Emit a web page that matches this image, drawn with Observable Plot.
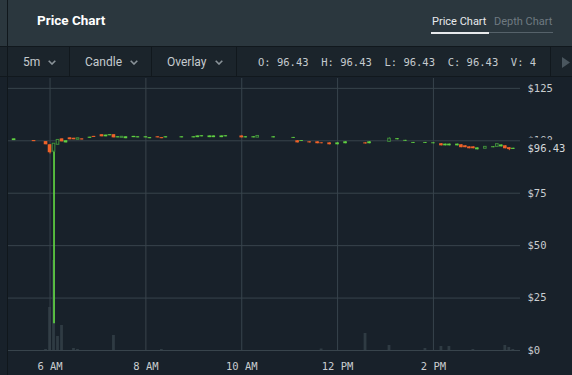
<!DOCTYPE html>
<html><head><meta charset="utf-8">
<script src="https://cdn.jsdelivr.net/npm/d3@7"></script>
<script src="https://cdn.jsdelivr.net/npm/@observablehq/plot@0.6"></script>
<style>
html,body{margin:0;padding:0;background:#18212a;width:572px;height:375px;overflow:hidden;}
#root{position:relative;width:572px;height:375px;font-family:Roboto,"Noto Sans",sans-serif;}
#header{position:absolute;left:0;top:0;width:572px;height:46px;background:#2b373e;}
#toolbar{position:absolute;left:0;top:46px;width:572px;height:31px;background:#1b242b;border-top:1px solid #11181d;border-bottom:1px solid #11181d;box-sizing:border-box;}
#title{position:absolute;left:37px;top:10px;line-height:20px;font-size:13.5px;font-weight:700;color:#ffffff;}
.tab{position:absolute;top:13px;line-height:18px;font-size:11px;}
#vline{position:absolute;left:7px;top:0;width:1px;height:375px;background:#10171c;}
.tb{position:absolute;top:1px;line-height:29px;font-size:12px;color:#c5cbcf;}
.sep{position:absolute;top:0;width:1px;height:29px;background:#11181d;}
.chev{position:absolute;top:13px;}
#ohlc{position:absolute;left:258px;top:1px;line-height:29px;font-family:"DejaVu Sans Mono",monospace;font-size:10.5px;color:#c5cbcf;white-space:pre;}
#chart{position:absolute;left:8px;top:78px;width:564px;height:297px;}
#chart svg{position:absolute;left:0;top:0;}
</style></head>
<body><div id="root">
<div id="header">
  <div id="title">Price Chart</div>
  <div class="tab" style="left:432px;color:#e8eaec;">Price Chart</div>
  <div class="tab" style="left:494px;color:#6f7a81;">Depth Chart</div>
  <div style="position:absolute;left:431px;top:32px;width:58px;height:1.5px;background:#e8eaec;"></div>
  <div style="position:absolute;left:489px;top:32px;width:64px;height:1px;background:#56626a;"></div>
</div>
<div id="toolbar">
  <div class="tb" style="left:23px;">5m</div>
  <svg class="chev" style="left:48px" width="8" height="5"><path d="M0.7 0.7 L4 4 L7.3 0.7" stroke="#8a9399" stroke-width="1.6" fill="none"/></svg>
  <div class="sep" style="left:69px"></div>
  <div class="tb" style="left:85px;">Candle</div>
  <svg class="chev" style="left:130px" width="8" height="5"><path d="M0.7 0.7 L4 4 L7.3 0.7" stroke="#8a9399" stroke-width="1.6" fill="none"/></svg>
  <div class="sep" style="left:151px"></div>
  <div class="tb" style="left:167px;">Overlay</div>
  <svg class="chev" style="left:215px" width="8" height="5"><path d="M0.7 0.7 L4 4 L7.3 0.7" stroke="#8a9399" stroke-width="1.6" fill="none"/></svg>
  <div class="sep" style="left:236px"></div>
  <div id="ohlc"></div>
  <div class="sep" style="left:550px"></div>
  <svg style="position:absolute;left:562px;top:10px" width="9" height="11"><path d="M0 0 L8 5.5 L0 11 Z" fill="#4a565e"/></svg>
</div>
<div id="vline"></div>
<div id="chart"></div>
</div>
<script>
// ---- data ----
const times  = ["05:15","05:40","05:55","06:00","06:05","06:10","06:15","06:20","06:25","06:30","06:35","06:40","06:50","06:55","07:05","07:10","07:15","07:20","07:25","07:30","07:35","07:45","07:50","08:00","08:05","08:15","08:20","08:25","08:45","09:00","09:05","09:10","09:20","09:25","09:35","09:40","10:00","10:05","10:15","10:20","10:40","11:05","11:10","11:15","11:25","11:35","11:40","11:50","12:00","12:10","12:35","12:40","13:05","13:15","13:25","13:35","13:50","14:00","14:10","14:15","14:20","14:30","14:35","14:40","14:45","14:50","14:55","15:05","15:15","15:20","15:25","15:30","15:35","15:40"];
const opens  = [100.1,100.1,99.6,98.1,94.8,98.1,100.9,99.0,101.4,101.2,100.5,100.9,101.2,102.1,102.9,101.9,102.4,102.9,101.4,101.4,101.0,101.5,101.4,101.4,101.0,101.9,101.5,101.4,101.4,101.4,101.5,101.9,101.5,101.5,101.5,101.9,102.3,101.4,101.4,101.5,101.4,101.2,100.0,99.7,99.5,99.5,99.0,99.0,98.1,98.6,99.0,98.6,99.5,100.5,99.8,98.8,98.8,98.6,98.6,97.6,97.6,97.6,98.1,97.6,97.1,97.1,95.7,96.2,96.7,97.1,97.1,97.6,96.7,95.9];
const highs  = [100.9,100.1,99.6,98.1,98.6,100.4,100.9,100.0,101.4,101.2,101.2,100.9,101.7,102.1,102.9,102.7,102.9,102.9,101.9,101.9,101.9,102.1,101.9,101.9,101.5,101.9,101.5,101.9,101.9,101.9,102.3,102.4,102.3,102.3,102.3,102.4,102.3,101.9,101.9,102.3,101.9,101.6,100.0,100.1,99.5,99.5,99.0,99.0,99.0,99.5,99.0,99.5,101.4,101.0,100.2,99.2,99.2,99.0,98.6,98.4,98.4,98.4,98.1,97.6,97.1,97.1,96.6,97.1,97.1,98.4,98.0,97.6,96.7,96.43];
const lows   = [100.1,99.6,98.1,93.7,12.8,98.1,99.5,99.0,100.5,100.5,100.5,100.4,101.2,101.6,101.9,101.9,102.4,101.4,101.4,101.4,101.0,101.5,101.4,101.4,101.0,101.4,101.0,101.4,101.4,101.4,101.5,101.9,101.5,101.5,101.5,101.9,101.4,101.4,101.4,101.5,101.4,101.2,99.0,99.7,99.0,98.6,98.6,98.1,98.1,98.6,98.5,98.6,99.3,100.5,99.8,98.8,98.8,98.6,97.6,97.6,97.6,97.6,96.7,96.7,96.2,96.2,95.7,96.2,96.7,97.1,97.1,96.2,95.3,95.9];
const closes = [100.9,99.6,98.1,94.3,98.6,100.4,99.5,100.0,100.5,100.5,101.2,100.4,101.7,101.6,101.9,102.7,102.9,101.4,101.9,101.9,101.9,102.1,101.9,101.9,101.5,101.4,101.0,101.9,101.9,101.9,102.3,102.4,102.3,102.3,102.3,102.4,101.4,101.9,101.9,102.3,101.9,101.6,99.0,100.1,99.0,98.6,98.6,98.1,99.0,99.5,98.5,99.5,101.0,101.0,100.2,99.2,99.2,99.0,97.6,98.4,98.4,98.4,96.7,96.7,96.2,96.2,96.6,97.1,97.1,98.4,98.0,96.2,95.8,96.43];
const kinds  = ["up","down","down","down","hollow","hollow","down","up","down","down","hollow","down","up","down","down","up","up","down","up","hollow","up","up","up","up","up","down","down","up","up","up","up","up","up","up","up","up","down","up","up","hollow","up","up","down","up","down","down","down","down","up","up","down","up","hollow","up","up","up","up","up","down","up","up","up","down","down","down","down","up","hollow","up","hollow","up","down","down","up"];
const volTimes = ["05:55","06:00","06:05","06:10","06:15","06:30","06:35","07:20","08:20","11:40","12:35","13:05","13:50","14:10","14:20","14:50","15:30","15:35","15:40"];
const volumes  = [4,172,360,56,100,8,4,60,4,6,68,20,8,16,16,4,20,12,4];
const priceTicks = [0,25,50,75,100,125];
const timeTicks = ["06:00","08:00","10:00","12:00","14:00"];
const xDomain = ["05:08","15:49"];
const last = {o:96.43,h:96.43,l:96.43,c:96.43,v:4};

// ---- build ----
const toDate = s => { const [h,m] = s.split(":").map(Number); return new Date(2018,6,20,h,m); };
const half = 2.5*60*1000;
const candles = times.map((t,i) => { const d = toDate(t); return {t:d, t0:new Date(+d-half), t1:new Date(+d+half), o:opens[i], h:highs[i], l:lows[i], c:closes[i], k:kinds[i]}; });
const vols = volTimes.map((t,i) => { const d = toDate(t); return {t0:new Date(+d-half), t1:new Date(+d+half), v:volumes[i]}; });

const BG = "#18212a", GREEN = "#5fcf41", ORANGE = "#ef6229", HOLLOW = "#3f8d3b", GRID = "#38444c";
const W = 564, H = 297, M = {marginLeft:0, marginRight:52, marginTop:0, marginBottom:25};
const xDates = xDomain.map(toDate);
const fmtT = d3.timeFormat("%-I %p");

document.getElementById("ohlc").textContent =
  `O: ${last.o.toFixed(2)}  H: ${last.h.toFixed(2)}  L: ${last.l.toFixed(2)}  C: ${last.c.toFixed(2)}  V: ${last.v}`;

const volPlot = Plot.plot({
  width: W, height: H, ...M,
  style: {background:"transparent"},
  x: {type:"time", domain:xDates, axis:null}, y: {domain:[0,1088], axis:null},
  marks: [
    Plot.rect(vols, {x1:"t0", x2:"t1", y1:0, y2:"v", fill:"#2f3b43", insetLeft:0.6, insetRight:0.6})
  ]
});

const solid = candles.filter(d => d.k !== "hollow");
const hollow = candles.filter(d => d.k === "hollow");
const col = d => d.k === "down" ? ORANGE : (d.k === "hollow" ? HOLLOW : GREEN);
const lastD = [last.c];

const pricePlot = Plot.plot({
  width: W, height: H, ...M,
  style: {background:"transparent", color:"#c9cdd0", fontFamily:"'DejaVu Sans Mono',monospace", fontSize:"10.5px"},
  x: {type:"time", domain:xDates}, y: {domain:[0,129.7]},
  marks: [
    Plot.gridY(priceTicks, {stroke:GRID, strokeOpacity:1}),
    Plot.gridX(timeTicks.map(toDate), {stroke:GRID, strokeOpacity:1}),
    Plot.axisY(priceTicks, {anchor:"right", tickSize:0, tickPadding:7, tickFormat:d => "$" + d, fill:"#c9cdd0"}),
    Plot.axisX(timeTicks.map(toDate), {anchor:"bottom", tickSize:0, tickPadding:12, tickFormat:fmtT, fill:"#c9cdd0"}),
    Plot.ruleX(candles.filter(d => d.l < 50), {x:"t", y1:"l", y2:d => Math.min(d.o,d.c), stroke:"#63dc43", strokeWidth:1.6}),
    Plot.ruleX(candles.filter(d => d.l >= 50), {x:"t", y1:"l", y2:"h", stroke:col, strokeWidth:1}),
    Plot.rect(solid, {x1:"t0", x2:"t1", y1:"o", y2:"c", fill:col, insetLeft:0.2, insetRight:0.2}),
    Plot.rect(hollow, {x1:"t0", x2:"t1", y1:"o", y2:"c", fill:BG, stroke:HOLLOW, strokeWidth:1, insetLeft:0.7, insetRight:0.7}),
    Plot.text(lastD, {x:() => xDates[1], y:d => d, dx:7, textAnchor:"start", text:d => "$" + d.toFixed(2), fill:BG, stroke:BG, strokeWidth:13}),
    Plot.text(lastD, {x:() => xDates[1], y:d => d, dx:7, textAnchor:"start", text:d => "$" + d.toFixed(2), fill:"#d4d8da"})
  ]
});

const chart = document.getElementById("chart");
chart.appendChild(volPlot);
chart.appendChild(pricePlot);
</script>
</body></html>
